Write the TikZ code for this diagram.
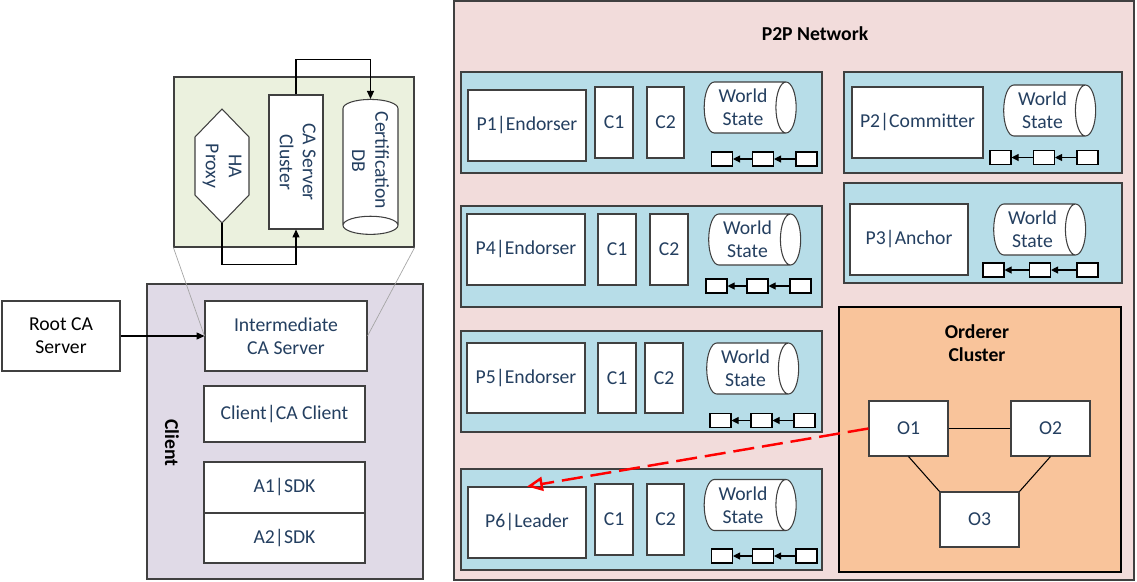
\documentclass[tikz,border=0pt]{standalone}
\usepackage{fontspec}
\setmainfont{Carlito}
\usepackage{graphicx}
\usetikzlibrary{shapes.geometric, arrows.meta}
\definecolor{ink}{HTML}{243F60}
\definecolor{edge}{HTML}{404040}
\definecolor{p2p-pink}{HTML}{F2DCDB}
\definecolor{peer-blue}{HTML}{B7DDE8}
\definecolor{ca-green}{HTML}{EBF1DE}
\definecolor{client-lilac}{HTML}{E0DAE7}
\definecolor{orderer-peach}{HTML}{F9C49B}

\begin{document}
\begin{tikzpicture}[x=0.02cm, y=-0.02cm,
  every node/.style={font=\fontsize{11.2}{13.2}\selectfont},
  box/.style={draw=edge, fill=white, text=ink, align=center, line width=0.6pt, inner sep=1pt},
  panel/.style={draw=edge, line width=0.7pt},
  blk/.style={draw=black, fill=white, minimum width=0.42cm, minimum height=0.28cm,
    inner sep=0pt, line width=0.6pt},
  ws/.style={box, cylinder, aspect=0.5, minimum width=1.02cm, minimum height=1.84cm},
  title/.style={font=\fontsize{11.2}{13.2}\selectfont\bfseries, text=black, align=center},
  link/.style={-{Triangle[length=4.5pt,width=4pt]}, line width=0.6pt},
  chain/.style={-{Triangle[length=4pt,width=4pt]}, line width=0.6pt}]
  \useasboundingbox (0,0) rectangle (1137,582);

  % P2P network
  \node[panel, fill=p2p-pink, minimum width=13.6cm, minimum height=11.58cm] (p2p) at (794,290.5) {};
  \node[title] (p2ptitle) at (815,34) {P2P Network};

  \node[panel, fill=peer-blue, minimum width=7.22cm, minimum height=2.02cm] (pan1) at (641.5,122.5) {};
  \node[panel, fill=peer-blue, minimum width=7.22cm, minimum height=2.02cm] (pan4) at (641.5,256.5) {};
  \node[panel, fill=peer-blue, minimum width=7.22cm, minimum height=2.02cm] (pan5) at (641.5,381.5) {};
  \node[panel, fill=peer-blue, minimum width=7.22cm, minimum height=2.02cm] (pan6) at (641.5,519.5) {};
  \node[panel, fill=peer-blue, minimum width=5.56cm, minimum height=2.02cm] (pan2) at (983,122.5) {};
  \node[panel, fill=peer-blue, minimum width=5.56cm, minimum height=2.0cm] (pan3) at (983,233) {};

  % P1
  \node[box, minimum width=2.36cm, minimum height=1.42cm] (p1) at (527,125.5) {P1|Endorser};
  \node[box, minimum width=0.76cm, minimum height=1.42cm] (p1c1) at (614,122.5) {C1};
  \node[box, minimum width=0.74cm, minimum height=1.42cm] (p1c2) at (665.5,122.5) {C2};
  \node[ws] (p1ws) at (743,107.5) {World\\State};
  \node[blk] (p1b1) at (722,159) {};
  \node[blk] (p1b2) at (763,159) {};
  \node[blk] (p1b3) at (806.5,159) {};
  \draw[chain] (p1b3) -- (p1b2);
  \draw[chain] (p1b2) -- (p1b1);

  % P4
  \node[box, minimum width=2.36cm, minimum height=1.42cm] (p4) at (526,249.5) {P4|Endorser};
  \node[box, minimum width=0.76cm, minimum height=1.42cm] (p4c1) at (617,249.5) {C1};
  \node[box, minimum width=0.76cm, minimum height=1.42cm] (p4c2) at (669,249.5) {C2};
  \node[ws] (p4ws) at (747.5,239.5) {World\\State};
  \node[blk] (p4b1) at (716.5,286) {};
  \node[blk] (p4b2) at (757.5,286) {};
  \node[blk] (p4b3) at (800.5,286) {};
  \draw[chain] (p4b3) -- (p4b2);
  \draw[chain] (p4b2) -- (p4b1);

  % P5
  \node[box, minimum width=2.36cm, minimum height=1.40cm] (p5) at (526,378) {P5|Endorser};
  \node[box, minimum width=0.76cm, minimum height=1.40cm] (p5c1) at (617,378) {C1};
  \node[box, minimum width=0.76cm, minimum height=1.40cm] (p5c2) at (664,378) {C2};
  \node[ws] (p5ws) at (745.5,368.5) {World\\State};
  \node[blk] (p5b1) at (720.5,420.5) {};
  \node[blk] (p5b2) at (761.5,420.5) {};
  \node[blk] (p5b3) at (804.5,420.5) {};
  \draw[chain] (p5b3) -- (p5b2);
  \draw[chain] (p5b2) -- (p5b1);

  % P6
  \node[box, minimum width=2.36cm, minimum height=1.42cm] (p6) at (527,522.5) {P6|Leader};
  \node[box, minimum width=0.76cm, minimum height=1.42cm] (p6c1) at (614,519.5) {C1};
  \node[box, minimum width=0.74cm, minimum height=1.42cm] (p6c2) at (665.5,519.5) {C2};
  \node[ws] (p6ws) at (743,505) {World\\State};
  \node[blk] (p6b1) at (722,556) {};
  \node[blk] (p6b2) at (763,556) {};
  \node[blk] (p6b3) at (806.5,556) {};
  \draw[chain] (p6b3) -- (p6b2);
  \draw[chain] (p6b2) -- (p6b1);

  % P2 and P3
  \node[box, minimum width=2.62cm, minimum height=1.42cm] (p2) at (917.5,122.5) {P2|Committer};
  \node[ws] (p2ws) at (1042.5,110.5) {World\\State};
  \node[blk] (p2b1) at (1000.5,157.5) {};
  \node[blk] (p2b2) at (1044,157.5) {};
  \node[blk] (p2b3) at (1087.5,157.5) {};
  \draw[chain] (p2b3) -- (p2b2);
  \draw[chain] (p2b2) -- (p2b1);

  \node[box, minimum width=2.36cm, minimum height=1.42cm] (p3) at (909,239.5) {P3|Anchor};
  \node[ws] (p3ws) at (1032.5,229.5) {World\\State};
  \node[blk] (p3b1) at (993.5,270) {};
  \node[blk] (p3b2) at (1040,270) {};
  \node[blk] (p3b3) at (1087.5,270) {};
  \draw[chain] (p3b3) -- (p3b2);
  \draw[chain] (p3b2) -- (p3b1);

  % orderers
  \node[panel, draw=black, fill=orderer-peach, minimum width=5.64cm, minimum height=5.3cm] (ordgrp) at (980,439.5) {};
  \node[title] (ordtitle) at (977,343) {Orderer\\Cluster};
  \node[box, minimum width=1.58cm, minimum height=1.1cm] (o1) at (908.5,428.5) {O1};
  \node[box, minimum width=1.58cm, minimum height=1.1cm] (o2) at (1050.5,428.5) {O2};
  \node[box, minimum width=1.58cm, minimum height=1.1cm] (o3) at (979.5,519.5) {O3};
  \draw[line width=0.6pt] (o1.east) -- (o2.west);
  \draw[line width=0.6pt] (o1.south) -- (o3.north west);
  \draw[line width=0.6pt] (o2.south) -- (o3.north east);
  \draw[red, line width=1.4pt, dash pattern=on 12pt off 4.5pt,
    -{Triangle[open, length=9pt, width=8pt]}] (o1.west) -- (p6.north);

  % CA cluster
  \node[panel, fill=ca-green, minimum width=4.8cm, minimum height=3.4cm] (cagrp) at (294,162) {};
  \draw[draw=edge, fill=white, line width=0.6pt] (222,109) -- (249,137) -- (249,195)
    -- (222,223) -- (195,195) -- (195,137) -- cycle;
  \node[text=ink, minimum width=1.08cm, minimum height=2.28cm] (haproxy) at (222,166)
    {\rotatebox{-90}{\begin{tabular}{@{}c@{}}HA\\Proxy\end{tabular}}};
  \node[box, minimum width=1.08cm, minimum height=2.68cm] (casrv) at (296,162)
    {\rotatebox{-90}{\begin{tabular}{@{}c@{}}CA Server\\Cluster\end{tabular}}};
  \node[box, cylinder, aspect=0.45, rotate=-90, minimum width=1.1cm, minimum height=2.7cm]
    (certdb) at (370.5,160.5) {Certification\\DB};
  \draw[link] (casrv.north) -- ++(0,-35) -| (certdb.west);
  \draw[link] (haproxy.south) -- ++(0,41) -| (casrv.south);

  % client
  \node[panel, fill=client-lilac, minimum width=5.52cm, minimum height=5.9cm] (client) at (285,431.5) {};
  \node[title, rotate=-90] (clienttitle) at (172,443) {Client};
  \node[box, minimum width=3.24cm, minimum height=1.4cm] (inter) at (286,336) {Intermediate\\CA Server};
  \node[box, minimum width=3.22cm, minimum height=1.12cm] (cacl) at (284.5,414) {Client|CA Client};
  \node[box, minimum width=3.22cm, minimum height=1.02cm] (a1) at (284.5,487.5) {A1|SDK};
  \node[box, minimum width=3.22cm, minimum height=1.0cm] (a2) at (284.5,538) {A2|SDK};
  \draw[black!35, line width=0.4pt] (cagrp.south west) -- (inter.west);
  \draw[black!35, line width=0.4pt] (cagrp.south east) -- (inter.east);

  \node[box, text=black, minimum width=2.36cm, minimum height=1.4cm] (root) at (61,336) {Root CA\\Server};
  \draw[link] (root) -- (inter);
\end{tikzpicture}
\end{document}
